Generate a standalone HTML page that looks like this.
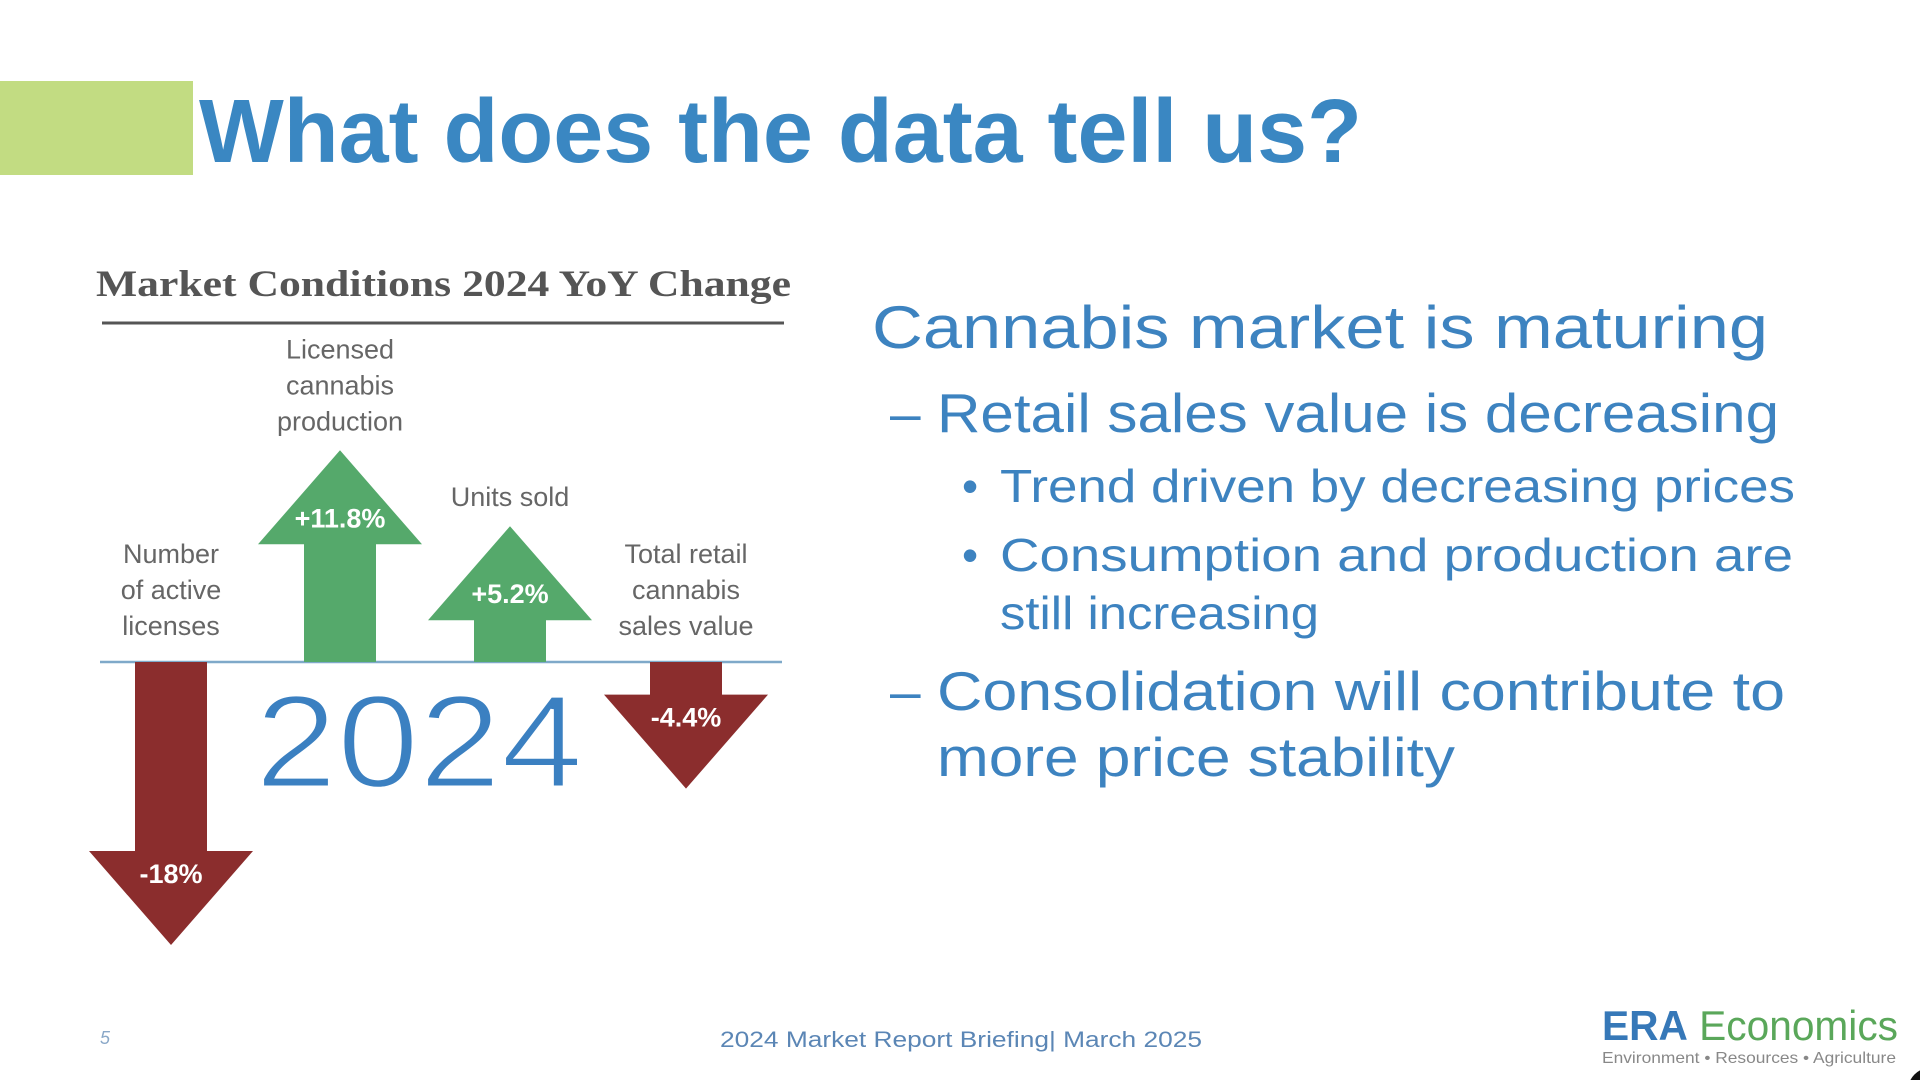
<!DOCTYPE html>
<html><head><meta charset="utf-8"><style>
html,body{margin:0;padding:0;background:#fff;width:1920px;height:1080px;overflow:hidden}
svg{display:block}
</style></head><body>
<svg id="slide" width="1920" height="1080" viewBox="0 0 1920 1080" xmlns="http://www.w3.org/2000/svg" font-family="Liberation Sans, sans-serif">
<rect x="0" y="81" width="193" height="94" fill="#c2dc82"/>
<text x="199" y="162" font-size="90" font-weight="bold" fill="#3a87c2" textLength="1163" lengthAdjust="spacingAndGlyphs">What does the data tell us?</text>

<text x="96" y="296" font-family="Liberation Serif, serif" font-weight="bold" font-size="37" fill="#555" textLength="695" lengthAdjust="spacingAndGlyphs">Market Conditions 2024 YoY Change</text>
<line x1="102" y1="323" x2="784" y2="323" stroke="#555" stroke-width="3"/>
<g id="chart"></g>
<text x="255" y="787" font-size="132" fill="#3b80c1" stroke="#fff" stroke-width="3" paint-order="normal" textLength="328" lengthAdjust="spacingAndGlyphs">2024</text>

<g fill="#3d83c0">
<text x="872" y="348" font-size="60" textLength="896" lengthAdjust="spacingAndGlyphs">Cannabis market is maturing</text>
<text x="890" y="432" font-size="55">–</text>
<text x="937" y="432" font-size="55" textLength="842" lengthAdjust="spacingAndGlyphs">Retail sales value is decreasing</text>
<text x="962" y="502" font-size="46">•</text>
<text x="1000" y="502" font-size="46" textLength="795" lengthAdjust="spacingAndGlyphs">Trend driven by decreasing prices</text>
<text x="962" y="571" font-size="46">•</text>
<text x="1000" y="571" font-size="46" textLength="793" lengthAdjust="spacingAndGlyphs">Consumption and production are</text>
<text x="1000" y="629" font-size="46" textLength="319" lengthAdjust="spacingAndGlyphs">still increasing</text>
<text x="890" y="710" font-size="55">–</text>
<text x="937" y="710" font-size="55" textLength="848" lengthAdjust="spacingAndGlyphs">Consolidation will contribute to</text>
<text x="937" y="776" font-size="55" textLength="518" lengthAdjust="spacingAndGlyphs">more price stability</text>
</g>

<text x="100" y="1044" font-size="18" fill="#8aa8c8" font-style="italic">5</text>
<text x="720" y="1047" font-size="22" fill="#5b86b5" textLength="482" lengthAdjust="spacingAndGlyphs">2024 Market Report Briefing| March 2025</text>
<text x="1602" y="1040" font-size="42" textLength="296" lengthAdjust="spacingAndGlyphs"><tspan fill="#3678b8" font-weight="bold">ERA</tspan><tspan fill="#5aa75a"> Economics</tspan></text>
<text x="1602" y="1063" font-size="16" fill="#888" textLength="294" lengthAdjust="spacingAndGlyphs">Environment • Resources • Agriculture</text>
<circle cx="1930" cy="1090" r="22" fill="#111"/>
</svg>
<script>
const categories = ["Number of active licenses", "Licensed cannabis production", "Units sold", "Total retail cannabis sales value"];
const values = [-18, 11.8, 5.2, -4.4];
const valueLabels = ["-18%", "+11.8%", "+5.2%", "-4.4%"];
const labelLines = [["Number","of active","licenses"],["Licensed","cannabis","production"],["Units sold"],["Total retail","cannabis","sales value"]];

const NS = "http://www.w3.org/2000/svg";
const g = document.getElementById("chart");
const baseY = 662;
function xPos(i){ return [171, 340, 510, 686][i]; }
function yScale(v){ const len = 76 + 11.5*Math.abs(v); return baseY - Math.sign(v)*len; }
const headLen = 94, headHalf = 82, shaftHalf = 36;

const axis = document.createElementNS(NS, "line");


axis.setAttribute("x1",100); axis.setAttribute("x2",782);
axis.setAttribute("y1",baseY); axis.setAttribute("y2",baseY);
axis.setAttribute("stroke","#7fa9c9"); axis.setAttribute("stroke-width","2.5");
g.appendChild(axis);

values.forEach((v,i)=>{
  const cx = xPos(i), tip = yScale(v), d = Math.sign(v);
  const hb = tip + d*headLen;
  const col = v>0 ? "#55a96b" : "#8b2d2d";
  const p = document.createElementNS(NS,"path");
  
  
  p.setAttribute("d", `M${cx-shaftHalf},${baseY} L${cx-shaftHalf},${hb} L${cx-headHalf},${hb} L${cx},${tip} L${cx+headHalf},${hb} L${cx+shaftHalf},${hb} L${cx+shaftHalf},${baseY} Z`);
  p.setAttribute("fill", col);
  g.appendChild(p);
  const t = document.createElementNS(NS,"text");
  
  
  t.setAttribute("x", cx); t.setAttribute("y", d>0 ? tip + 77 : tip - 62);
  t.setAttribute("text-anchor","middle"); t.setAttribute("font-size","27");
  t.setAttribute("font-weight","bold"); t.setAttribute("fill","#fff");
  t.textContent = valueLabels[i];
  g.appendChild(t);
  const lines = labelLines[i];
  const topY = v>0 ? tip - 20 - (lines.length-1)*36 : 563;
  lines.forEach((ln,j)=>{
    const lt = document.createElementNS(NS,"text");
    
    
    lt.setAttribute("x", cx); lt.setAttribute("y", topY + j*36);
    lt.setAttribute("text-anchor","middle"); lt.setAttribute("font-size","27");
    lt.setAttribute("fill","#666");
    lt.textContent = ln;
    g.appendChild(lt);
  });
});
</script>
</body></html>
